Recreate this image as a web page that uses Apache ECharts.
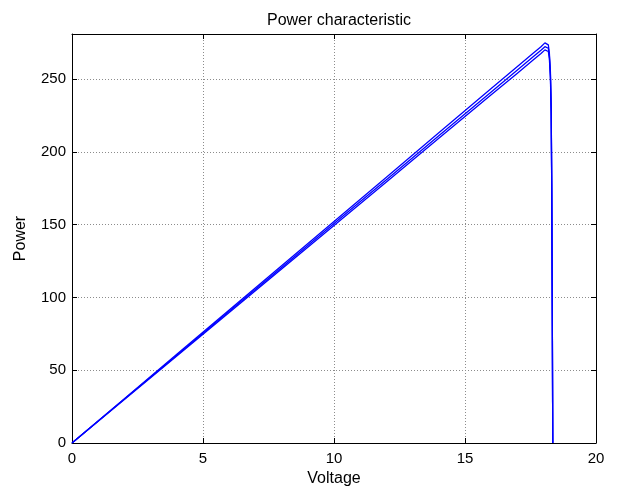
<!DOCTYPE html>
<html>
<head>
<meta charset="utf-8">
<script src="https://cdn.jsdelivr.net/npm/echarts@6/dist/echarts.min.js"></script>
<style>
  html, body { margin: 0; padding: 0; background: #fff; }
  #chart { width: 617px; height: 489px; }
</style>
</head>
<body>
<div id="chart"></div>
<script>
// voltage samples shared by the three curves
const voltage = [0, 2, 4, 6, 8, 10, 12, 14, 16, 17, 17.6, 17.9, 18.05, 18.12, 18.18, 18.22, 18.26, 18.29, 18.31, 18.33, 18.35]

// power, one array per curve
const powerHigh = [0, 30.4, 60.9, 91.3, 121.8, 152.2, 182.6, 213.1, 243.5, 258.7, 267.8, 272.3, 274.9, 275.7, 273.5, 268, 255, 230, 180, 100, 0]
const powerMid  = [0, 30.2, 60.3, 90.5, 120.6, 150.8, 180.9, 211.1, 241.2, 256.3, 265.3, 269.8, 272.3, 273.1, 271.2, 266, 253, 228, 178, 98, 0]
const powerLow  = [0, 29.9, 59.8, 89.7, 119.6, 149.5, 179.4, 209.3, 239.2, 254.1, 263.1, 267.6, 270.1, 270.8, 269, 264, 251, 226, 176, 96, 0]

const xTicks = { min: 0, max: 20, interval: 5 }
const yTicks = { min: 0, max: 281, interval: 50 }

const FONT = 'Liberation Sans, Arial, sans-serif'
const GRID_LINE = { show: true, lineStyle: { color: '#8c8c8c', type: [1, 2], width: 1 } }

const chart = echarts.init(document.getElementById('chart'))

function pairs(ys) {
  return voltage.map((v, i) => [v, ys[i]])
}

function lineSeries(ys) {
  return {
    type: 'line',
    xAxisIndex: 0,
    yAxisIndex: 0,
    data: pairs(ys),
    showSymbol: false,
    smooth: false,
    lineStyle: { color: '#0000ff', width: 1.3 },
    itemStyle: { color: '#0000ff' },
    animation: false
  }
}

// box axes on top / right, ticks only
const boxAxis = {
  axisLine: { show: true, onZero: false, lineStyle: { color: '#000', width: 1 } },
  axisTick: { show: true, inside: true, length: 5, lineStyle: { color: '#000' } },
  axisLabel: { show: false },
  splitLine: { show: false }
}

chart.setOption({
  animation: false,
  title: {
    text: 'Power characteristic',
    left: 334, top: 8, textAlign: 'center',
    textStyle: { fontFamily: FONT, fontSize: 16, fontWeight: 'normal', color: '#000' }
  },
  grid: { left: 72, right: 21, top: 34, bottom: 46, containLabel: false, outerBoundsMode: 'none' },
  xAxis: [{
    type: 'value', ...xTicks,
    name: 'Voltage', nameLocation: 'middle', nameGap: 27,
    nameTextStyle: { fontFamily: FONT, fontSize: 16, color: '#000' },
    axisLine: { show: true, onZero: false, lineStyle: { color: '#000', width: 1 } },
    axisTick: { show: true, inside: true, length: 5, lineStyle: { color: '#000' } },
    axisLabel: { fontFamily: FONT, fontSize: 15, color: '#000', margin: 8 },
    splitLine: GRID_LINE
  }, {
    type: 'value', position: 'top', ...xTicks, ...boxAxis
  }],
  yAxis: [{
    type: 'value', ...yTicks,
    name: 'Power', nameLocation: 'middle', nameGap: 43,
    nameTextStyle: { fontFamily: FONT, fontSize: 16, color: '#000' },
    axisLine: { show: true, onZero: false, lineStyle: { color: '#000', width: 1 } },
    axisTick: { show: true, inside: true, length: 5, lineStyle: { color: '#000' } },
    axisLabel: { fontFamily: FONT, fontSize: 15, color: '#000', margin: 6, showMaxLabel: false },
    splitLine: GRID_LINE
  }, {
    type: 'value', position: 'right', ...yTicks, ...boxAxis
  }],
  series: [lineSeries(powerHigh), lineSeries(powerMid), lineSeries(powerLow)]
})

window.addEventListener('resize', () => chart.resize())
</script>
</body>
</html>
